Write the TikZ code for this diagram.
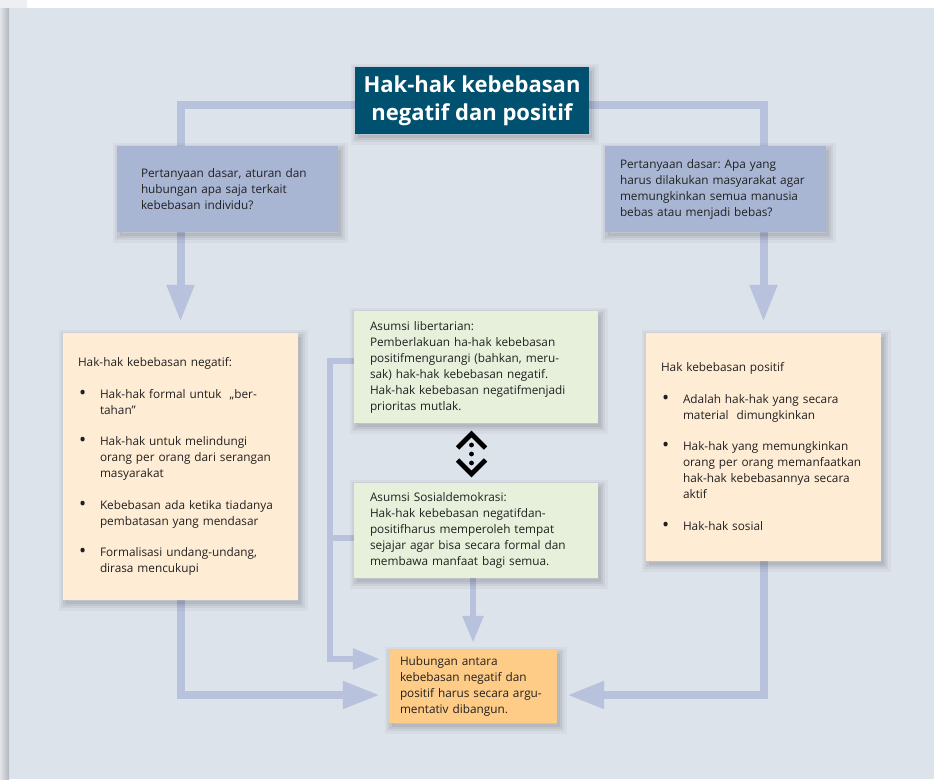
\documentclass[tikz,border=0pt]{standalone}
\usepackage{fontspec}
\setmainfont{Open Sans}
\usetikzlibrary{arrows.meta,shadows,calc}
\definecolor{panel}{HTML}{DDE3EB}
\definecolor{topleft}{HTML}{EDEFF2}
\definecolor{shadeL}{HTML}{E2E4E8}
\definecolor{shadeR}{HTML}{B2B6BD}
\definecolor{conncol}{HTML}{B8C2DC}
\definecolor{qfill}{HTML}{A9B6D3}
\definecolor{peach}{HTML}{FFECD4}
\definecolor{greenbox}{HTML}{E7F0DB}
\definecolor{orangebox}{HTML}{FFCC88}
\definecolor{titleblue}{HTML}{005170}
\definecolor{txt}{HTML}{202020}
\pgfdeclarelayer{back}
\pgfdeclarelayer{conn}
\pgfsetlayers{back,conn,main}
\frenchspacing
\newcommand{\bulmark}{\makebox[22pt][l]{\hspace{1pt}\raisebox{-1.2pt}{\fontsize{19}{16}\selectfont\textbullet}}}
\newcommand{\bul}[1]{\par\vspace{15.5pt}\hangindent=22pt\hangafter=1\noindent\bulmark#1\par}
\begin{document}
\begin{tikzpicture}[x=1pt,y=-1pt,
  softshadow/.style={
    general shadow={shadow xshift=2.5pt,shadow yshift=-3.5pt,fill=none,draw=black,draw opacity=0.03,line width=14pt},
    general shadow={shadow xshift=2.5pt,shadow yshift=-3.5pt,fill=none,draw=black,draw opacity=0.045,line width=9pt},
    general shadow={shadow xshift=2.5pt,shadow yshift=-3.5pt,fill=none,draw=black,draw opacity=0.06,line width=5pt},
    general shadow={shadow xshift=2.5pt,shadow yshift=-3.5pt,fill=black,fill opacity=0.06,draw=none}},
  box/.style={draw=none, text=txt, align=left, inner ysep=0pt,
    font=\fontsize{11.8}{16}\selectfont, softshadow},
  qbox/.style={box, fill=qfill},
  pbox/.style={box, fill=peach},
  gbox/.style={box, fill=greenbox},
  obox/.style={box, fill=orangebox},
  tbox/.style={box, fill=titleblue, align=center, font=\fontsize{22}{28}\selectfont\bfseries},
  bigc/.style={draw=conncol, line width=8pt, line join=miter, -{Triangle[length=37pt,width=26pt]}},
  smallc/.style={draw=conncol, line width=6pt, line join=miter, -{Triangle[length=27pt,width=20pt]}},
  smallline/.style={draw=conncol, line width=6pt},
  chev/.style={line width=4.8pt, line join=miter, draw=black}
]
\useasboundingbox (0,0) rectangle (934,779);
\begin{pgfonlayer}{back}
  \fill[panel] (0,0) rectangle (934,779);
  \fill[topleft] (0,0) rectangle (27,8);
  \fill[white] (27,0) rectangle (934,7.5);
  \shade[left color=shadeL, right color=shadeR] (0,8) rectangle (9,779);
\end{pgfonlayer}

% question boxes
\node[qbox, minimum width=221pt, minimum height=86pt, inner xsep=24pt, text width=173pt] (qL) at (227.5,189)
  {Pertanyaan dasar, aturan dan\\hubungan apa saja terkait\\kebebasan individu?};
\node[qbox, minimum width=221pt, minimum height=86pt, inner xsep=15pt, text width=191pt] (qR) at (715.5,189)
  {Pertanyaan dasar: Apa yang\\harus dilakukan masyarakat agar\\memungkinkan semua manusia\\bebas atau menjadi bebas?};

% rights boxes
\node[pbox, minimum width=235pt, minimum height=267pt, inner xsep=15pt, text width=205pt] (negL) at (180.5,466.5)
  {\noindent Hak-hak kebebasan negatif:%
   \bul{Hak-hak formal untuk\ \ „ber-\newline tahan”}%
   \bul{Hak-hak untuk melindungi\newline orang per orang dari serangan\newline masyarakat}%
   \bul{Kebebasan ada ketika tiadanya\newline pembatasan yang mendasar}%
   \bul{Formalisasi undang-undang,\newline dirasa mencukupi}};
\node[pbox, minimum width=235pt, minimum height=228pt, inner xsep=15pt, text width=205pt] (posR) at (763.5,447)
  {\noindent Hak kebebasan positif%
   \bul{Adalah hak-hak yang secara\newline material\ \ dimungkinkan}%
   \bul{Hak-hak yang memungkinkan\newline orang per orang memanfaatkan\newline hak-hak kebebasannya secara\newline aktif}%
   \bul{Hak-hak sosial}};

% assumption boxes
\node[gbox, minimum width=244pt, minimum height=112pt, inner xsep=16pt, text width=212pt] (lib) at (476,367)
  {Asumsi libertarian:\\Pemberlakuan ha-hak kebebasan\\positifmengurangi (bahkan, meru-\\sak) hak-hak kebebasan negatif.\\Hak-hak kebebasan negatifmenjadi\\prioritas mutlak.};
\node[gbox, minimum width=244pt, minimum height=95pt, inner xsep=16pt, text width=212pt] (sos) at (476,530.5)
  {Asumsi Sosialdemokrasi:\\Hak-hak kebebasan negatifdan-\\positifharus memperoleh tempat\\sejajar agar bisa secara formal dan\\membawa manfaat bagi semua.};

% result box
\node[obox, minimum width=168pt, minimum height=73pt, inner xsep=11pt, text width=146pt] (res) at (473,686.5)
  {Hubungan antara\\kebebasan negatif dan\\positif harus secara argu-\\mentativ dibangun.};

% title
\node[tbox, minimum width=234pt, minimum height=67pt] (title) at (472,100.5)
  {\color{white}Hak-hak kebebasan\\\color{white}negatif dan positif};

% double chevron symbol
\draw[chev] (457.5,448) -- (471.5,434) -- (485.5,448);
\draw[chev] (457.5,460) -- (471.5,474) -- (485.5,460);
\fill (471.5,445) circle (2.4pt);
\fill (471.5,454) circle (2.4pt);
\fill (471.5,463) circle (2.4pt);

% connectors
\begin{pgfonlayer}{conn}
  \draw[bigc] ($(title.center)+(0,4.5)$) -| ($(negL.north)+(0,-11)$);
  \draw[bigc] ($(title.center)+(0,4.5)$) -| ($(posR.north)+(0,-11)$);
  \draw[bigc] (negL.south) |- ($(res.west)+(-9,8.5)$);
  \draw[bigc] (posR.south) |- ($(res.east)+(10,8.5)$);
  \draw[smallc] (res.north |- sos.south) -- ($(res.north)+(0,-7)$);
  \draw[smallc] ($(lib.west)+(0,-6)$) -| ($(res.west)+(-59,-27.5)$) -- ($(res.west)+(-9,-27.5)$);
  \draw[smallline] ($(sos.west)+(0,7.5)$) -- ++(-27,0);
\end{pgfonlayer}
\end{tikzpicture}
\end{document}
